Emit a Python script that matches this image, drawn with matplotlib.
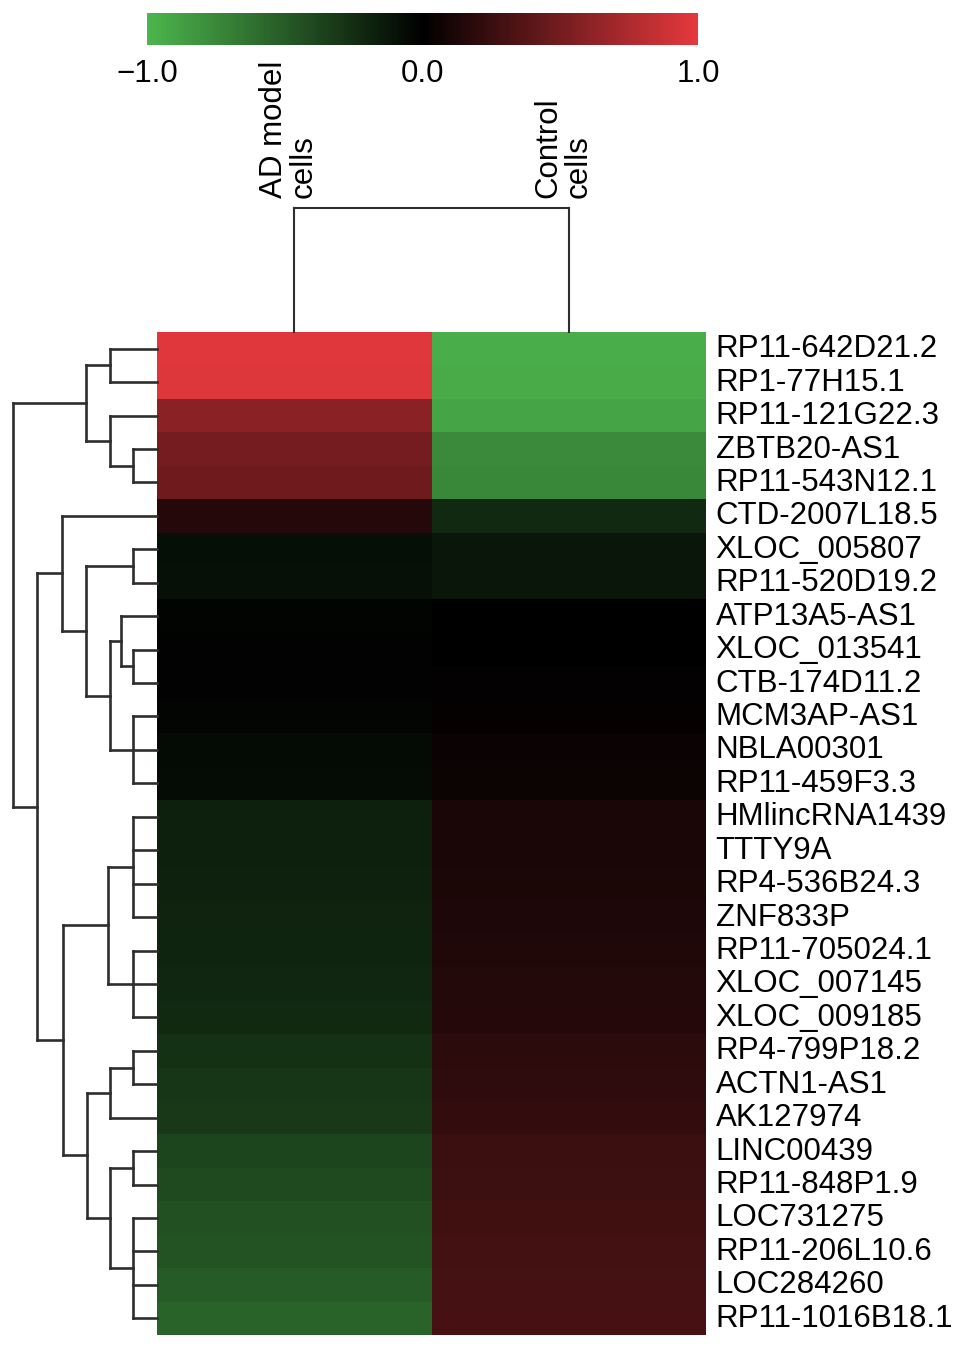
import numpy as np
import matplotlib
matplotlib.use("Agg")
import matplotlib.pyplot as plt
from matplotlib.colors import LinearSegmentedColormap, Normalize
from matplotlib.cm import ScalarMappable
import matplotlib.transforms as mtrans

plt.rcParams['font.family'] = ['Liberation Sans', 'DejaVu Sans']

# ---------------- data ----------------
genes = ["RP11-642D21.2", "RP1-77H15.1", "RP11-121G22.3", "ZBTB20-AS1", "RP11-543N12.1",
         "CTD-2007L18.5", "XLOC_005807", "RP11-520D19.2", "ATP13A5-AS1", "XLOC_013541",
         "CTB-174D11.2", "MCM3AP-AS1", "NBLA00301", "RP11-459F3.3", "HMlincRNA1439",
         "TTTY9A", "RP4-536B24.3", "ZNF833P", "RP11-705024.1", "XLOC_007145",
         "XLOC_009185", "RP4-799P18.2", "ACTN1-AS1", "AK127974", "LINC00439",
         "RP11-848P1.9", "LOC731275", "RP11-206L10.6", "LOC284260", "RP11-1016B18.1"]
samples = ["AD model\ncells", "Control\ncells"]

ad_values = [0.97, 0.96, 0.60, 0.50, 0.48,
             0.16, -0.08, -0.09, -0.02, -0.01,
             -0.01, -0.03, -0.06, -0.07, -0.17,
             -0.17, -0.18, -0.19, -0.20, -0.21,
             -0.22, -0.27, -0.29, -0.31, -0.38,
             -0.40, -0.44, -0.46, -0.50, -0.54]
control_values = [-0.95, -0.94, -0.90, -0.76, -0.75,
                  -0.22, -0.12, -0.12, 0.00, 0.00,
                  0.01, 0.02, 0.04, 0.05, 0.11,
                  0.11, 0.12, 0.13, 0.14, 0.15,
                  0.16, 0.19, 0.20, 0.22, 0.25,
                  0.26, 0.28, 0.29, 0.30, 0.31]

# dendrogram trees: (merge height, [children]); ints are leaf indices
row_tree = (1.0, [
    (0.49, [(0.326, [0, 1]), (0.326, [2, (0.167, [3, 4])])]),
    (0.83, [
        (0.66, [5, (0.49, [(0.167, [6, 7]),
                           (0.326, [(0.25, [8, (0.167, [9, 10])]), (0.167, [11, 12, 13])])])]),
        (0.65, [(0.34, [(0.167, [14, 15, 16, 17]), (0.167, [18, 19, 20])]),
                (0.488, [(0.326, [(0.167, [21, 22]), 23]),
                         (0.326, [(0.167, [24, 25]), (0.167, [26, 27, 28, 29])])])]),
    ]),
])
col_tree = (1.0, [0, 1])

cbar_ticks = [-1.0, 0.0, 1.0]
cbar_ticklabels = ["\u22121.0", "0.0", "1.0"]

# ---------------- figure ----------------
W, H = 969, 1349
fig = plt.figure(figsize=(W / 100, H / 100), dpi=100)


def px_axes(x0, y0, x1, y1):
    return fig.add_axes([x0 / W, 1 - y1 / H, (x1 - x0) / W, (y1 - y0) / H])


cmap = LinearSegmentedColormap.from_list("gkr", [(0.30, 0.71, 0.30), (0.0, 0.0, 0.0), (0.90, 0.22, 0.24)])
norm = Normalize(-1, 1)

# heatmap
ax = px_axes(157, 332, 706, 1335)
data = np.column_stack([ad_values, control_values])
ax.pcolormesh(np.arange(3), np.arange(len(genes) + 1), data, cmap=cmap, norm=norm)
ax.set_xlim(0, 2)
ax.set_ylim(len(genes), 0)
ax.set_xticks([])
ax.yaxis.tick_right()
ax.set_yticks(np.arange(len(genes)) + 0.5)
ax.set_yticklabels(genes, fontsize=22.5)
ax.tick_params(axis='y', length=0, pad=7)
shift = mtrans.ScaledTranslation(0, 3 / 100, fig.dpi_scale_trans)
for t in ax.get_yticklabels():
    t.set_transform(t.get_transform() + shift)
for s in ax.spines.values():
    s.set_visible(False)


def walk(node, segs):
    if isinstance(node, int):
        return node + 0.5, 0.0
    h, kids = node
    res = [walk(k, segs) for k in kids]
    ps = [r[0] for r in res]
    for p, ch in res:
        segs.append(((ch, h), (p, p)))
    segs.append(((h, h), (min(ps), max(ps))))
    return float(np.mean(ps)), h


# row dendrogram
axr = px_axes(13, 332, 157, 1335)
segs = []
walk(row_tree, segs)
for (h0, h1), (p0, p1) in segs:
    axr.plot([h0, h1], [p0, p1], color='#2e2e2e', lw=1.9, solid_capstyle='projecting', clip_on=False)
axr.set_xlim(1.0, 0)
axr.set_ylim(len(genes), 0)
axr.axis('off')

# column dendrogram
axc = px_axes(157, 208, 706, 332)
segs = []
walk(col_tree, segs)
for (h0, h1), (p0, p1) in segs:
    axc.plot([p0, p1], [h0, h1], color='#2e2e2e', lw=1.5, solid_capstyle='projecting', clip_on=False)
axc.set_xlim(0, 2)
axc.set_ylim(0, 1.0)
axc.axis('off')
for i, lab in enumerate(samples):
    axc.annotate(lab, xy=(i + 0.5, 1.0), xycoords='data', xytext=(-4, 7),
                 textcoords='offset points', rotation=90, ha='center', va='bottom',
                 fontsize=22.5, linespacing=1.0, multialignment='left')

# colorbar
cax = px_axes(147, 13, 698, 45)
cb = fig.colorbar(ScalarMappable(norm=norm, cmap=cmap), cax=cax, orientation='horizontal')
cb.outline.set_visible(False)
cb.set_ticks(cbar_ticks)
cb.set_ticklabels(cbar_ticklabels)
cax.tick_params(length=0, labelsize=22.5, pad=10)

fig.savefig("out.png", dpi=100)
